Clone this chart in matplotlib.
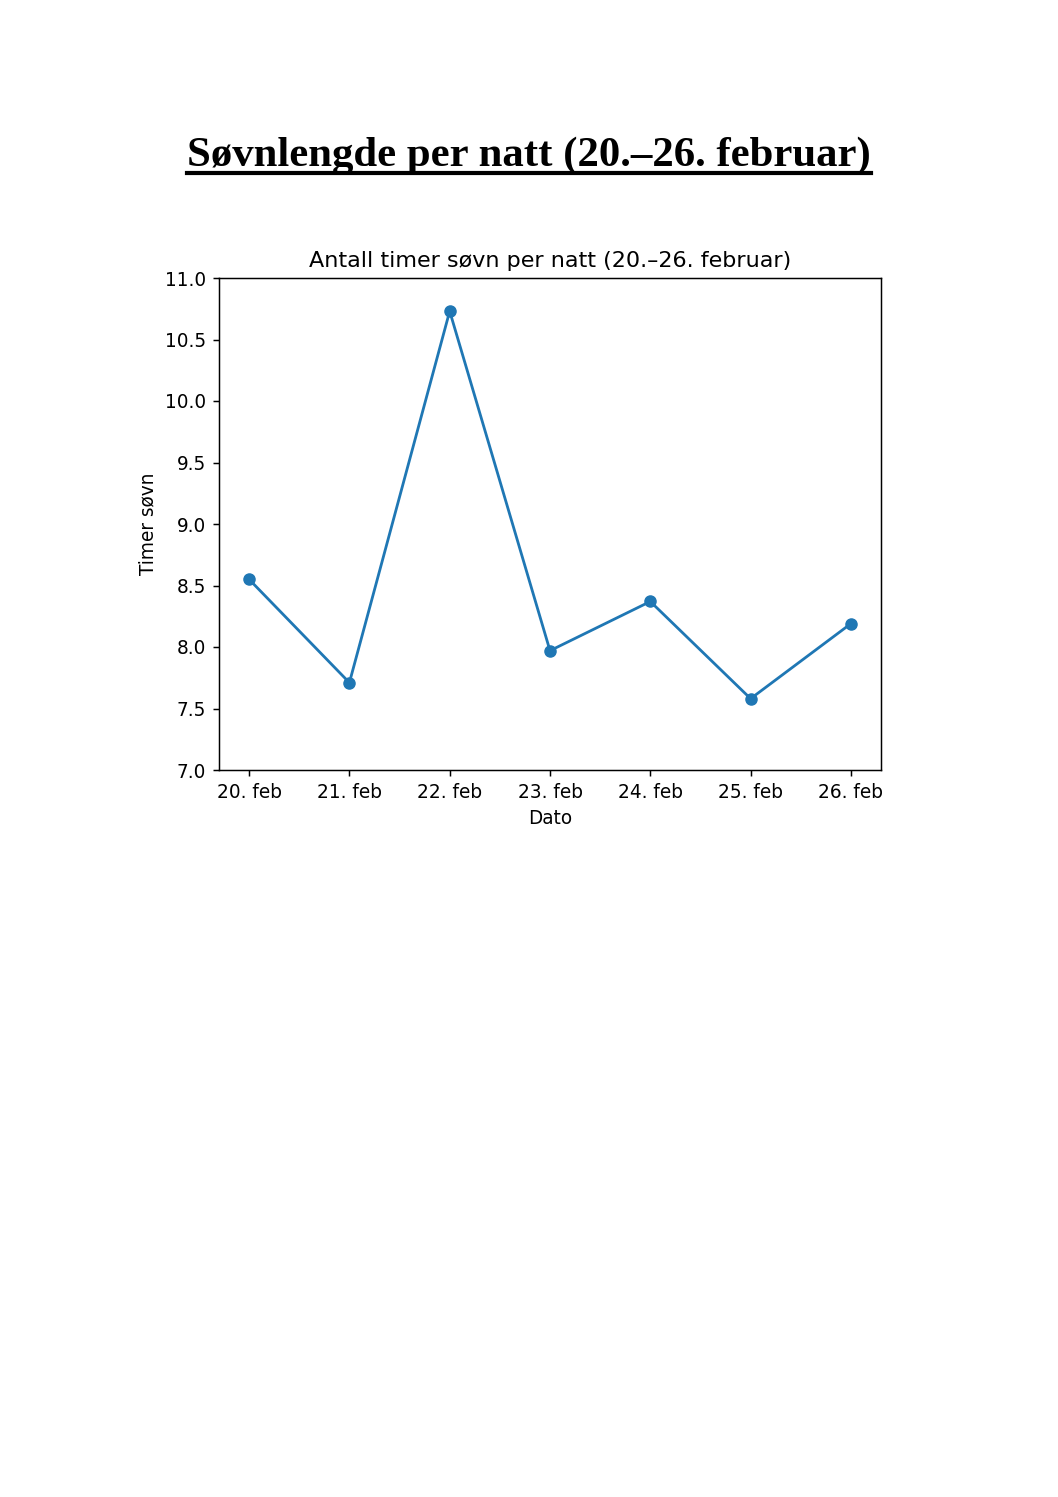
import matplotlib
matplotlib.use("Agg")
import matplotlib.pyplot as plt
from matplotlib.lines import Line2D

dates = ["20. feb", "21. feb", "22. feb", "23. feb", "24. feb", "25. feb", "26. feb"]
hours = [8.55, 7.71, 10.73, 7.97, 8.37, 7.58, 8.19]
yticks = [7.0, 7.5, 8.0, 8.5, 9.0, 9.5, 10.0, 10.5, 11.0]

W, H = 1058, 1497
fig = plt.figure(figsize=(W / 100, H / 100), dpi=100)
fig.patch.set_facecolor("white")

s = 1.335
fs = 10 * s

ax = fig.add_axes([219 / W, 1 - 770 / H, (881 - 219) / W, (770 - 278) / H])
ax.plot(range(len(dates)), hours, marker="o", color="#1f77b4", linewidth=1.5 * s, markersize=6 * s)
ax.set_xticks(range(len(dates)))
ax.set_xticklabels(dates, fontsize=fs)
ax.set_ylim(7.0, 11.0)
ax.set_yticks(yticks)
ax.set_yticklabels([f"{v:.1f}" for v in yticks], fontsize=fs)
ax.set_xlabel("Dato", fontsize=fs, labelpad=4 * s)
ax.set_ylabel("Timer søvn", fontsize=fs, labelpad=4 * s)
ax.set_title("Antall timer søvn per natt (20.–26. februar)", fontsize=12 * s, pad=6 * s)
for sp in ax.spines.values():
    sp.set_linewidth(0.8 * s)
ax.tick_params(width=0.8 * s, length=3.5 * s, pad=3.5 * s)

title = fig.text(0.5, 1 - 166 / H, "Søvnlengde per natt (20.–26. februar)",
                 ha="center", va="baseline", fontsize=30.8, fontweight="bold",
                 family="Liberation Serif")
fig.canvas.draw()
bb = title.get_window_extent()
uy = 1 - 173 / H
fig.add_artist(Line2D([bb.x0 / W, bb.x1 / W], [uy, uy], color="black", linewidth=3,
                      transform=fig.transFigure))

fig.savefig("out.png", dpi=100, facecolor="white")
